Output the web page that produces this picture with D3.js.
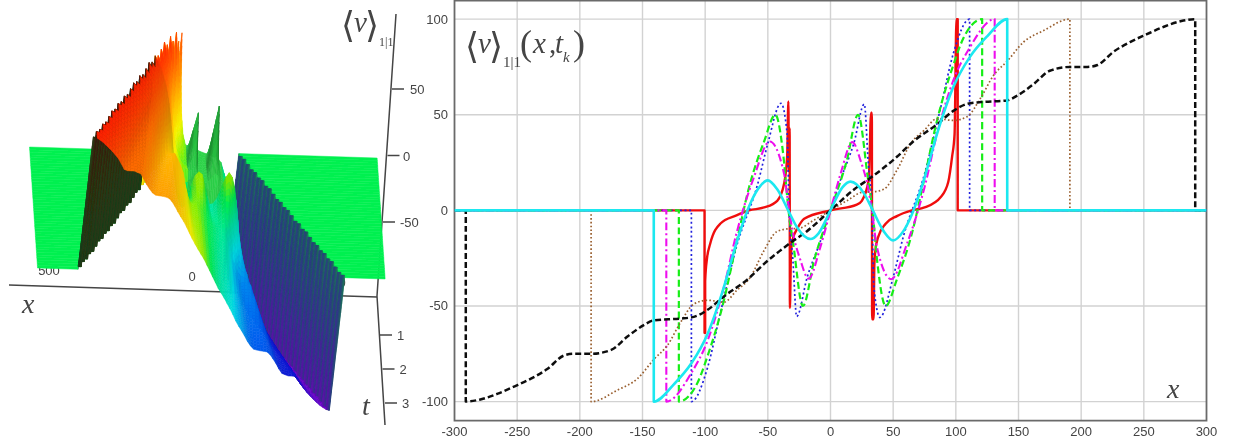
<!DOCTYPE html>
<html><head><meta charset="utf-8">
<script src="https://cdnjs.cloudflare.com/ajax/libs/d3/7.8.5/d3.min.js"></script>
<style>html,body{margin:0;padding:0;background:#fff}svg{display:block}</style></head>
<body><svg id="c" width="1246" height="446"></svg>
<script>
// ---- right panel: profiles ----
const xTicks = [-300,-250,-200,-150,-100,-50,0,50,100,150,200,250,300];
const yTicks = [-100,-50,0,50,100];

const blackX = [-300,-291,-291,-280,-266,-252,-239,-226,-213,-205,-191,-175,-162,-149,-141,-120,-109,-98,-85,-66,-53,-32,-19,0,19,32,53,66,85,98,109,120,141,149,162,175,191,205,213,226,239,252,266,280,291,291,300];
const blackY = [0,0,-100,-99,-96,-92,-88,-83,-76,-75,-75,-73,-66,-60,-57.5,-56.6,-55.7,-52,-45,-36,-28,-17,-11,0,11,17,28,36,45,52,55.7,56.6,57.5,60,66,73,75,75,76,83,88,92,96,99,100,0,0];
const brownX = [-300,-191,-191,-170,-154,-141,-130,-120,-109,-98,-85,-75,-64,-53,-42.5,-32,-26.6,-13,0,13,26.6,32,42.5,53,64,75,85,98,109,120,130,141,154,170,191,191,300];
const brownY = [0,0,-100,-94,-88,-78,-70.5,-59,-49,-47,-48,-42,-35,-21,-11,-9.6,-9.6,-5,0,5,9.6,9.6,11,21,35,42,48,47,49,59,70.5,78,88,94,100,0,0];
const cyanX = [-300,-141,-141,-125,-111,-98,-85,-75,-65,-58,-50,-42.5,-33,-26.6,-16,-9.5,0,9.5,16,26.6,33,42.5,50,58,65,75,85,98,111,125,141,141,300];
const cyanY = [0,0,-100,-91,-80,-64.5,-40,-17,2,11,15.7,11,-1,-9,-15,-12,0,12,15,9,1,-11,-15.7,-11,-2,17,40,64.5,80,91,100,0,0];
const magentaX = [-300,-131,-131,-111,-98,-85,-75,-61,-48.5,-37,-33,-30.5,-24,-17.5,-8,0,8,17.5,24,30.5,33,37,48.5,61,75,85,98,111,131,131,300];
const magentaY = [0,0,-100,-85,-68,-40,-12,17.5,36,19,0,-10,-26,-35.7,-19,0,19,35.7,26,10,0,-19,-36,-17.5,12,40,68,85,100,0,0];
const greenX = [-300,-121,-121,-106,-98,-85,-75,-65,-53,-44,-37.5,-33.5,-30,-22,-13,0,13,22,30,33.5,37.5,44,53,65,75,85,98,106,121,121,300];
const greenY = [0,0,-100,-90,-76,-47,-17,12,36,50,28,0,-16,-50,-26,0,26,50,16,0,-28,-50,-36,-12,17,47,76,90,100,0,0];
const blueX = [-300,-111,-111,-98,-88,-75,-58,-50,-39.5,-34.6,-33,-30,-27,-18.6,-8,0,8,18.6,27,30,33,34.6,39.5,50,58,75,88,98,111,111,300];
const blueY = [0,0,-100,-82,-54,-19,14,35,56,40,0,-26,-55.5,-35,-16,0,16,35,55.5,26,0,-40,-56,-35,-14,19,54,82,100,0,0];
const redX = [-300,-100.5,-100.5,-100,-100,-98.5,-96,-88,-75,-65,-53,-42.5,-37,-34.6,-33.6,-33.2,-32.6,-32.4,-31.6,-30.6,-26,-21,0,21,25,30.5,32.4,33,33.2,34.4,35,36,38,44,53,65,75,88,94,97,99,100.5,101.5,101.5,300];
const redY = [0,0,-64,-64,-37,-25,-17.5,-7,-2.6,0,1.5,5,14,28,57,20,43,-51,-25,-16,-9,-4.4,0,3,5,16,51,51,-57,-57,-28,-20,-14,-7,-3,0,1.5,7,15,28,40,100,100,0,0];

// ---- left panel: early profiles, plus slice times ----
const backX = [-387,-73,-73,-66,-60,-50,-40,0,40,50,60,66,73,73,387];
const backY = [0,0,-100,-70,-40,-15,-5,0,5,15,40,70,100,0,0];
const earlyX = [-387,-111,-111,-98,-88,-75,-58,-46,-36,-24,-16.5,-9,0,9,21,28.5,36,46,58,75,88,98,111,111,387];
const earlyY = [0,0,-100,-82,-54,-19,-6,-4,-3,20,72,5,0,1,6,72,6,6,8,22,54,82,100,0,0];
const laterX = [-387,-131,-131,-111,-98,-85,-75,-61,-48,-36,-25,-15,0,15,25,36,48,61,75,85,98,111,131,131,387];
const laterY = [0,0,-100,-85,-68,-40,-14,-3,-3,-3,8,3,0,5,12,8,12,18,28,47,68,85,100,0,0];
const sliceTimes = [0,0.52,0.8,0.93,1.63,3];
const sliceFronts = [73,111,131,141,191,291];
const zTicks = [50,0,-50];
const tTicks = [1,2,3];
const xTicks3d = [{v:500,l:"500"},{v:0,l:"0"},{v:-500,l:"500"}];

const svg = d3.select("#c");
const defs = svg.append("defs");
defs.append("filter").attr("id","soft").attr("x","-5%").attr("y","-5%").attr("width","110%").attr("height","110%")
  .append("feGaussianBlur").attr("stdDeviation",0.55);
const root = svg.append("g").attr("filter","url(#soft)");
root.append("rect").attr("width",1246).attr("height",446).attr("fill","#fff");

// ======= RIGHT PLOT =======
const x = d3.scaleLinear().domain([-300,300]).range([454.5,1206.5]);
const y = d3.scaleLinear().domain([-110,110]).range([420.7,0]);
const R = root.append("g");
R.append("g").selectAll("line").data(xTicks.slice(1,-1)).join("line")
  .attr("x1",d=>x(d)).attr("x2",d=>x(d)).attr("y1",0).attr("y2",420.7)
  .attr("stroke","#d2d2d2").attr("stroke-width",1.4);
R.append("g").selectAll("line").data(yTicks).join("line")
  .attr("y1",d=>y(d)).attr("y2",d=>y(d)).attr("x1",454.5).attr("x2",1206.5)
  .attr("stroke","#d2d2d2").attr("stroke-width",1.4);
R.append("path").attr("d","M454.5,0.5H1206.5V420.7H454.5Z").attr("fill","none").attr("stroke","#6a6a6a").attr("stroke-width",1.8);

const axisFont = "'Liberation Sans',sans-serif";
R.append("g").selectAll("text").data(xTicks).join("text")
  .attr("x",d=>x(d)).attr("y",436).attr("text-anchor","middle")
  .attr("font-family",axisFont).attr("font-size",13).attr("fill","#444")
  .text(d=>d<0?"-"+Math.abs(d):d);
R.append("g").selectAll("text").data(yTicks).join("text")
  .attr("x",448).attr("y",d=>y(d)+4.5).attr("text-anchor","end")
  .attr("font-family",axisFont).attr("font-size",13).attr("fill","#444")
  .text(d=>d<0?"-"+Math.abs(d):d);

const line = d3.line().x(d=>x(d[0])).y(d=>y(d[1])).curve(d3.curveMonotoneX);
const zip = (a,b)=>a.map((v,i)=>[v,b[i]]);
const traces = [
  {X:redX,Y:redY,c:"#f01010",w:2.4,d:null},
  {X:blueX,Y:blueY,c:"#2222dd",w:1.7,d:"2 2.6"},
  {X:greenX,Y:greenY,c:"#18ee18",w:2.2,d:"7 3.5"},
  {X:magentaX,Y:magentaY,c:"#ee11ee",w:2.1,d:"8 3 2 3"},
  {X:brownX,Y:brownY,c:"#9a6030",w:1.7,d:"1.6 2.2"},
  {X:blackX,Y:blackY,c:"#111",w:2.5,d:"6 3"},
  {X:cyanX,Y:cyanY,c:"#1ce8f0",w:2.6,d:null}
];
R.append("g").attr("fill","none").selectAll("path").data(traces).join("path")
  .attr("d",d=>line(zip(d.X,d.Y))).attr("stroke",d=>d.c).attr("stroke-width",d=>d.w)
  .attr("stroke-dasharray",d=>d.d).attr("stroke-linejoin","round");

const serif = "'Liberation Serif',serif";
const bracket = "'DejaVu Sans',sans-serif";
function vLabel(g,x0,y0,sub){
  const t=(txt,dx,dy,size,fam,style)=>g.append("text").attr("x",x0+dx).attr("y",y0+dy).attr("font-size",size)
    .attr("font-family",fam).attr("font-style",style||"normal").attr("fill","#444").text(txt);
  t("\u27E8",-3,0,36,bracket);
  t("v",10,-5,29,serif,"italic");
  t("\u27E9",21,0,36,bracket);
  t("1|1",35,9,sub,serif);
}
vLabel(R,468,58,15);
const rt=(txt,xx,yy,size,style)=>R.append("text").attr("x",xx).attr("y",yy).attr("font-size",size)
  .attr("font-family",serif).attr("font-style",style||"normal").attr("fill","#444").text(txt);
rt("(",520,55,36);
rt("x",533,53,29,"italic");
rt(",",549,53,29);
rt("t",555,53,29,"italic");
rt("k",563,62,15,"italic");
rt(")",573,55,36);
rt("x",1167,398,28,"italic");

// ======= LEFT PLOT =======
const L = root.append("g");
const sx = {x:d3.scaleLinear().domain([0,100]).range([0,-45]), t:d3.scaleLinear().domain([0,3]).range([0,8]), v:d3.scaleLinear().domain([0,100]).range([0,12])};
const sy = {x:d3.scaleLinear().domain([0,100]).range([0,-1.42]), t:d3.scaleLinear().domain([0,3]).range([0,121]), v:d3.scaleLinear().domain([0,100]).range([0,-133])};
const proj = (px,pt,pv)=>[203+sx.x(px)+sx.t(pt)+sx.v(pv), 152.5+sy.x(px)+sy.t(pt)+sy.v(pv)];

// axes (behind the surface)
const ax = L.append("g").attr("stroke","#444").attr("fill","none").attr("stroke-width",1.5);
ax.append("path").attr("d","M9,285L377,297");
ax.append("path").attr("d","M396,14L377,296L385,425");
const tickFont = {f:axisFont,s:13,c:"#444"};
const zPos = d3.scaleLinear().domain([50,-50]).range([89,222]);
const zX = d3.scaleLinear().domain([50,-50]).range([392,383]);
ax.append("g").selectAll("line").data(zTicks).join("line")
  .attr("x1",d=>zX(d)).attr("x2",d=>zX(d)+12).attr("y1",d=>zPos(d)).attr("y2",d=>zPos(d));
L.append("g").selectAll("text").data(zTicks).join("text")
  .attr("x",d=>d===50?410:(d===0?403:400)).attr("y",d=>zPos(d)+5)
  .attr("font-family",tickFont.f).attr("font-size",tickFont.s).attr("fill",tickFont.c).text(d=>d<0?"-"+Math.abs(d):d);
const tPos = d3.scaleLinear().domain([1,3]).range([335,403]);
const tX = d3.scaleLinear().domain([1,3]).range([380,385]);
ax.append("g").selectAll("line").data(tTicks).join("line")
  .attr("x1",d=>tX(d)).attr("x2",d=>tX(d)+12).attr("y1",d=>tPos(d)).attr("y2",d=>tPos(d));
L.append("g").selectAll("text").data(tTicks).join("text")
  .attr("x",d=>tX(d)+17).attr("y",d=>tPos(d)+5)
  .attr("font-family",tickFont.f).attr("font-size",tickFont.s).attr("fill",tickFont.c).text(d=>d);
const xPos3 = d3.scaleLinear().domain([500,0,-500]).range([47,192,343]);
L.append("g").selectAll("text").data(xTicks3d).join("text")
  .attr("x",d=>xPos3(d.v)+(d.v>0?2:(d.v<0?-8:0))).attr("y",d=>d.v>0?275:(d.v===0?281:287)).attr("text-anchor","middle")
  .attr("font-family",tickFont.f).attr("font-size",tickFont.s).attr("fill",tickFont.c).text(d=>d.l);
const lt=(txt,xx,yy)=>L.append("text").attr("x",xx).attr("y",yy).attr("font-size",28)
  .attr("font-family",serif).attr("font-style","italic").attr("fill","#444").text(txt);
lt("x",22,313); lt("t",362,415);
vLabel(L,344,37,12);

// surface colours
const colour = d3.scaleLinear()
  .domain([100,75,45,25,10,0,-12,-30,-55,-78,-100])
  .range(["#ff1e00","#ff6a00","#ffc000","#f4f400","#8cf000","#00f050","#00e8a0","#00e8f0","#0060f0","#1010d0","#7000c8"]);
const wallPlus = d3.scaleLinear().domain([0,50,100]).range(["#123f1c","#2c3a16","#3c1208"]);
const wallMinus = d3.scaleLinear().domain([0,-30,-60,-100]).range(["#1a7a58","#23566a","#2f3a86","#5a0fa8"]);
const spikeGreen = d3.color("#2ed64a");

const slices = [[backX,backY],[earlyX,earlyY],[laterX,laterY],[cyanX,cyanY],[brownX,brownY],[blackX,blackY]];
const frontAt = d3.scaleLinear().domain(sliceTimes).range(sliceFronts);
function sample(s,q){
  const X=s[0],Y=s[1];
  if(q<=X[0]||q>=X[X.length-1])return 0;
  const i=d3.bisectRight(X,q);
  const a=X[i-1],b=X[i];
  return b===a?Y[i]:Y[i-1]+(Y[i]-Y[i-1])*(q-a)/(b-a);
}
function warp(q,fT,fS){
  const m=Math.abs(q); if(m<=50||fT<=50)return q;
  return Math.sign(q)*(50+(m-50)*(fS-50)/(fT-50));
}
function surf(q,t){
  const f=frontAt(t);
  if(Math.abs(q)>f)return 0;
  let k=d3.bisectRight(sliceTimes,t)-1; k=Math.min(k,sliceTimes.length-2);
  const w=(t-sliceTimes[k])/(sliceTimes[k+1]-sliceTimes[k]);
  const eps=1e-3;
  const qa=warp(q,f,sliceFronts[k]-eps), qb=warp(q,f,sliceFronts[k+1]-eps);
  return sample(slices[k],qa)*(1-w)+sample(slices[k+1],qb)*w;
}
const dx=7.5, nT=46, xMax=387;
const grid=d3.range(-xMax,xMax+0.01,dx);
const times=d3.range(nT+1).map(i=>3*i/nT);
const vals=times.map(t=>grid.map(g=>surf(g,t)));
const polys=[];
const pathOf=pts=>"M"+pts.map(p=>p[0].toFixed(1)+","+p[1].toFixed(1)).join("L")+"Z";
for(let i=0;i<nT;i++){
  const t0=times[i],t1=times[i+1];
  let run=null;
  const flush=(j)=>{ if(run!==null){
      polys.push({d:pathOf([proj(grid[run],t0,0),proj(grid[j],t0,0),proj(grid[j],t1,0),proj(grid[run],t1,0)]),c:"#00f050"});
      run=null; } };
  for(let j=0;j<grid.length-1;j++){
    const a=vals[i][j],b=vals[i][j+1],c=vals[i+1][j+1],d=vals[i+1][j];
    if(a===0&&b===0&&c===0&&d===0){ if(run===null)run=j; continue; }
    flush(j);
    const span=Math.max(a,b,c,d)-Math.min(a,b,c,d);
    const n=Math.max(1,Math.ceil(span/7));
    const slope=Math.max(Math.abs(b-a),Math.abs(c-d))/dx;
    const mid=grid[j]+dx/2;
    const isWall=slope>5&&Math.abs(mid)>55&&(mid<0||t0>0.9);
    const isSpike=Math.abs(mid)<40&&t0<0.85;
    const shade=isSpike?1-0.6*Math.min(1,slope/7):(mid>0&&t0<=0.9?1:1-0.45*Math.min(1,slope/5));
    for(let m=0;m<n;m++){
      const u0=m/n,u1=(m+1)/n;
      const xa=grid[j]+dx*u0, xb=grid[j]+dx*u1;
      const v00=a+(b-a)*u0,v01=a+(b-a)*u1,v10=d+(c-d)*u0,v11=d+(c-d)*u1;
      const vm=(v00+v01+v10+v11)/4;
      let fill;
      if(isWall){
        fill=d3.rgb(mid>0?wallPlus(Math.max(0,vm)):wallMinus(Math.min(0,vm))).formatHex();
      }else{
        const col=d3.rgb(isSpike?spikeGreen:colour(vm));
        fill=d3.rgb(col.r*shade,col.g*shade,col.b*shade).formatHex();
      }
      polys.push({d:pathOf([proj(xa,t0,v00),proj(xb,t0,v01),proj(xb,t1,v11),proj(xa,t1,v10)]),c:fill});
    }
  }
  flush(grid.length-1);
}
L.append("g").attr("stroke-width",0.5).selectAll("path").data(polys).join("path")
  .attr("d",d=>d.d).attr("fill",d=>d.c).attr("stroke",d=>d.c);
</script></body></html>
